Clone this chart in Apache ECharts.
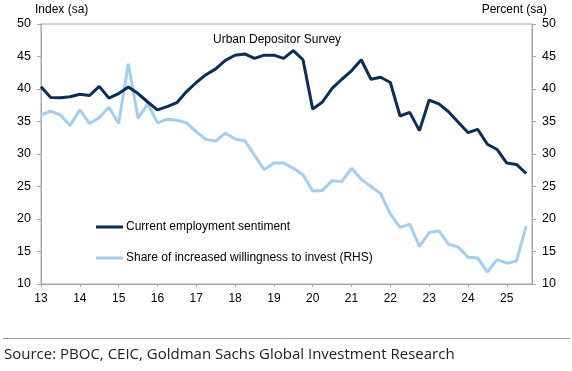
<!DOCTYPE html>
<html>
<head>
<meta charset="utf-8">
<script src="https://cdn.jsdelivr.net/npm/echarts@6/dist/echarts.min.js"></script>
<style>
html,body{margin:0;padding:0;background:#fff;}
#c{width:572px;height:371px;}
</style>
</head>
<body>
<div id="c"></div>
<script>
// Quarterly observations, starting Q1 2013 (x = 13.00, 13.25, ...)
var startYear = 13;
var employmentSentiment = [40.35, 38.7, 38.65, 38.8, 39.2, 39.0, 40.4, 38.6, 39.3, 40.3,
  39.3, 38.0, 36.8, 37.3, 37.9, 39.6, 41.0, 42.2, 43.1, 44.4,
  45.2, 45.4, 44.7, 45.2, 45.2, 44.7, 45.9, 44.5, 36.9, 38.0,
  40.1, 41.5, 42.8, 44.5, 41.5, 41.8, 41.0, 35.85, 36.4, 33.6,
  38.3, 37.7, 36.5, 34.9, 33.3, 33.8, 31.5, 30.7, 28.6, 28.4, 27.0];
var willingnessToInvest = [36.0, 36.6, 36.0, 34.4, 36.8, 34.7, 35.6, 37.2, 34.7, 43.9,
  35.5, 37.7, 34.8, 35.35, 35.2, 34.8, 33.4, 32.25, 32.0, 33.2,
  32.3, 32.05, 29.8, 27.6, 28.6, 28.6, 27.8, 26.8, 24.3, 24.4,
  25.9, 25.75, 27.8, 26.1, 25.0, 23.9, 20.8, 18.7, 19.2, 15.8,
  17.9, 18.2, 16.1, 15.7, 14.1, 14.0, 11.85, 13.75, 13.2, 13.55, 18.9];
var seriesNames = ['Current employment sentiment', 'Share of increased willingness to invest (RHS)'];
var xTickLabels = ['13','14','15','16','17','18','19','20','21','22','23','24','25'];
var yTicks = [10, 15, 20, 25, 30, 35, 40, 45, 50];

function toPairs(arr){
  return arr.map(function(v, i){ return [startYear + i * 0.25, v]; });
}

var darkColor = '#0b2d56';
var lightColor = '#a4cdee';
var axisGrey = '#a6a6a6';
var font = '"Liberation Sans", Arial, sans-serif';
var txt = {fontFamily: font, fontSize: 12, fontWeight: 'normal', color: '#000'};

var chart = echarts.init(document.getElementById('c'), null, {renderer: 'canvas'});
chart.setOption({
  animation: false,
  backgroundColor: '#fff',
  title: [
    {text: 'Index (sa)', left: 35, top: 4, padding: 0, textStyle: txt},
    {text: 'Percent (sa)', right: 25, top: 4, padding: 0, textStyle: txt},
    {text: 'Urban Depositor Survey', left: 213, top: 34, padding: 0, textStyle: txt}
  ],
  legend: [
    {data: [seriesNames[0]], left: 96, top: 221, padding: 0, orient: 'vertical', icon: 'rect', itemWidth: 27, itemHeight: 3,
     itemGap: 0, textStyle: {fontFamily: font, fontSize: 12, color: '#000', padding: [0,0,0,-2]}},
    {data: [seriesNames[1]], left: 96, top: 252, padding: 0, orient: 'vertical', icon: 'rect', itemWidth: 27, itemHeight: 3,
     itemGap: 0, textStyle: {fontFamily: font, fontSize: 12, color: '#000', padding: [0,0,0,-2]}}
  ],
  grid: {left: 41, right: 40, top: 24, bottom: 87, show: true, borderColor: axisGrey, borderWidth: 1, containLabel: false},
  xAxis: {
    type: 'value', min: 13, max: 25.65, interval: 1,
    axisLine: {show: true, lineStyle: {color: axisGrey, width: 1}},
    axisTick: {show: true, length: 3, lineStyle: {color: axisGrey}},
    splitLine: {show: false},
    axisLabel: {
      margin: 9, fontFamily: font, fontSize: 12, color: '#000', showMaxLabel: false,
      formatter: function(v){
        var idx = Math.round(v) - startYear;
        return (Math.abs(v - Math.round(v)) < 1e-6 && xTickLabels[idx]) ? xTickLabels[idx] : '';
      }
    }
  },
  yAxis: [
    {type: 'value', min: yTicks[0], max: yTicks[yTicks.length-1], interval: 5, position: 'left',
     axisLine: {show: true, lineStyle: {color: axisGrey}},
     axisTick: {show: true, length: 4, lineStyle: {color: axisGrey}},
     splitLine: {show: false},
     axisLabel: {margin: 10, fontFamily: font, fontSize: 12.5, color: '#000'}},
    {type: 'value', min: yTicks[0], max: yTicks[yTicks.length-1], interval: 5, position: 'right',
     axisLine: {show: true, lineStyle: {color: axisGrey}},
     axisTick: {show: true, length: 4, lineStyle: {color: axisGrey}},
     splitLine: {show: false},
     axisLabel: {margin: 10, fontFamily: font, fontSize: 12.5, color: '#000'}}
  ],
  series: [
    {name: seriesNames[1], type: 'line', yAxisIndex: 1, data: toPairs(willingnessToInvest), showSymbol: false, symbol: 'none',
     lineStyle: {color: lightColor, width: 3}, itemStyle: {color: lightColor}, z: 2},
    {name: seriesNames[0], type: 'line', yAxisIndex: 0, data: toPairs(employmentSentiment), showSymbol: false, symbol: 'none',
     lineStyle: {color: darkColor, width: 3}, itemStyle: {color: darkColor}, z: 3}
  ],
  graphic: [
    {type: 'line', shape: {x1: 3, y1: 338.5, x2: 570, y2: 338.5}, style: {stroke: '#9a9a9a', lineWidth: 1}},
    {type: 'text', left: 4, top: 347, style: {text: 'Source: PBOC, CEIC, Goldman Sachs Global Investment Research',
      font: '15px "Open Sans", "Noto Sans", sans-serif', fill: '#222'}}
  ]
});
</script>
</body>
</html>
